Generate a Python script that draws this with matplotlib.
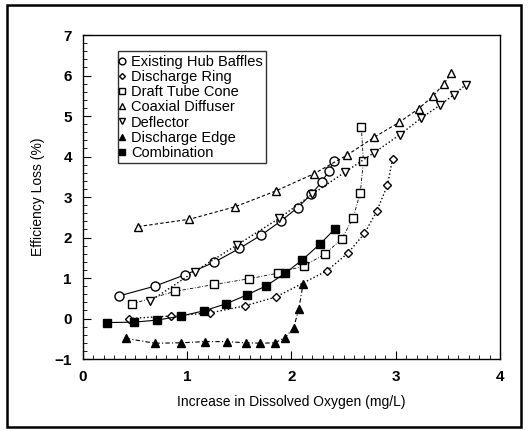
import matplotlib.pyplot as plt
from matplotlib.patches import Rectangle
from matplotlib.ticker import MultipleLocator

plt.rcParams['font.family'] = ['Liberation Sans', 'DejaVu Sans']

# Existing Hub Baffles
hub_x = [0.35, 0.69, 0.98, 1.26, 1.50, 1.71, 1.90, 2.06, 2.19, 2.29, 2.36, 2.41]
hub_y = [0.56, 0.80, 1.08, 1.39, 1.73, 2.06, 2.41, 2.74, 3.07, 3.37, 3.65, 3.90]

# Discharge Ring
ring_x = [0.44, 0.84, 1.22, 1.55, 1.85, 2.34, 2.54, 2.70, 2.82, 2.92, 2.97]
ring_y = [0.00, 0.06, 0.14, 0.31, 0.53, 1.18, 1.61, 2.10, 2.66, 3.29, 3.95]

# Draft Tube Cone
cone_x = [0.47, 0.88, 1.26, 1.59, 1.87, 2.12, 2.32, 2.48, 2.59, 2.66, 2.69, 2.67]
cone_y = [0.36, 0.67, 0.84, 0.98, 1.12, 1.30, 1.59, 1.96, 2.47, 3.11, 3.88, 4.72]

# Coaxial Diffuser
coax_x = [0.53, 1.02, 1.46, 1.85, 2.22, 2.53, 2.79, 3.03, 3.22, 3.36, 3.46, 3.53]
coax_y = [2.27, 2.45, 2.76, 3.15, 3.58, 4.03, 4.47, 4.84, 5.18, 5.50, 5.79, 6.05]

# Deflector
defl_x = [0.64, 1.07, 1.48, 1.88, 2.20, 2.51, 2.79, 3.04, 3.24, 3.42, 3.56, 3.67]
defl_y = [0.42, 1.16, 1.82, 2.47, 3.07, 3.61, 4.09, 4.54, 4.94, 5.26, 5.53, 5.77]

# Discharge Edge
edge_x = [0.41, 0.69, 0.94, 1.17, 1.38, 1.56, 1.70, 1.84, 1.94, 2.02, 2.07, 2.11]
edge_y = [-0.49, -0.61, -0.60, -0.57, -0.57, -0.60, -0.61, -0.60, -0.47, -0.23, 0.23, 0.84]

# Combination
comb_x = [0.23, 0.49, 0.71, 0.94, 1.16, 1.37, 1.57, 1.76, 1.94, 2.10, 2.27, 2.42]
comb_y = [-0.10, -0.09, -0.04, 0.06, 0.19, 0.36, 0.58, 0.81, 1.12, 1.44, 1.83, 2.22]

fig = plt.figure(figsize=(5.31, 4.30), dpi=100)
ax = fig.add_axes([0.1563, 0.1651, 0.7853, 0.7535])

lw = 0.8
ms = 5.5
ax.plot(hub_x, hub_y, '-', color='black', lw=lw, marker='o', ms=ms + 1,
        mfc='white', mec='black', label='Existing Hub Baffles')
ax.plot(ring_x, ring_y, ':', color='black', lw=lw + 0.2, marker='D', ms=ms - 1.5,
        mfc='white', mec='black', label='Discharge Ring')
ax.plot(cone_x, cone_y, color='black', lw=lw - 0.2, dashes=(4, 2, 1, 2), marker='s', ms=ms + 0.8,
        mfc='white', mec='black', label='Draft Tube Cone')
ax.plot(coax_x, coax_y, color='black', lw=lw, dashes=(3, 2), marker='^', ms=ms,
        mfc='white', mec='black', label='Coaxial Diffuser')
ax.plot(defl_x, defl_y, ':', color='black', lw=lw + 0.2, marker='v', ms=ms,
        mfc='white', mec='black', label='Deflector')
ax.plot(edge_x, edge_y, color='black', lw=lw, dashes=(4, 2, 1, 2), marker='^', ms=ms,
        mfc='black', mec='black', label='Discharge Edge')
ax.plot(comb_x, comb_y, '-', color='black', lw=lw, marker='s', ms=ms + 0.8,
        mfc='black', mec='black', label='Combination')

ax.set_xlim(0, 4)
ax.set_ylim(-1, 7)
ax.xaxis.set_major_locator(MultipleLocator(1))
ax.xaxis.set_minor_locator(MultipleLocator(0.1))
ax.yaxis.set_major_locator(MultipleLocator(1))
ax.yaxis.set_minor_locator(MultipleLocator(0.2))
ax.tick_params(which='both', direction='in', top=False, right=False)
ax.tick_params(which='major', length=6, width=0.8)
ax.tick_params(which='minor', length=3, width=0.6)
ax.tick_params(axis='x', pad=8)
ax.tick_params(axis='y', pad=8)
ax.set_xticks(range(0, 5))
ax.set_xticklabels([str(v) for v in range(0, 5)], fontsize=11, fontweight='bold')
ax.set_yticks(range(-1, 8))
ax.set_yticklabels(['\u22121'] + [str(v) for v in range(0, 8)], fontsize=11, fontweight='bold')
for sp in ax.spines.values():
    sp.set_linewidth(1.0)

ax.set_xlabel('Increase in Dissolved Oxygen (mg/L)', fontsize=10, labelpad=8)
ax.set_ylabel('Efficiency Loss (%)', fontsize=10, labelpad=7)

leg = ax.legend(loc='upper left', bbox_to_anchor=(0.085, 0.95), fontsize=10.5,
                frameon=True, fancybox=False, edgecolor='black', handlelength=0,
                handletextpad=0.6, labelspacing=0.08, borderpad=0.25,
                markerscale=0.75, borderaxespad=0)
leg.get_frame().set_linewidth(1.0)

fig.patches.append(Rectangle((7 / 531, 3 / 430), 514 / 531, 422 / 430,
                             transform=fig.transFigure, fill=False,
                             edgecolor='black', lw=1.8))

fig.savefig('out.png', dpi=100)
